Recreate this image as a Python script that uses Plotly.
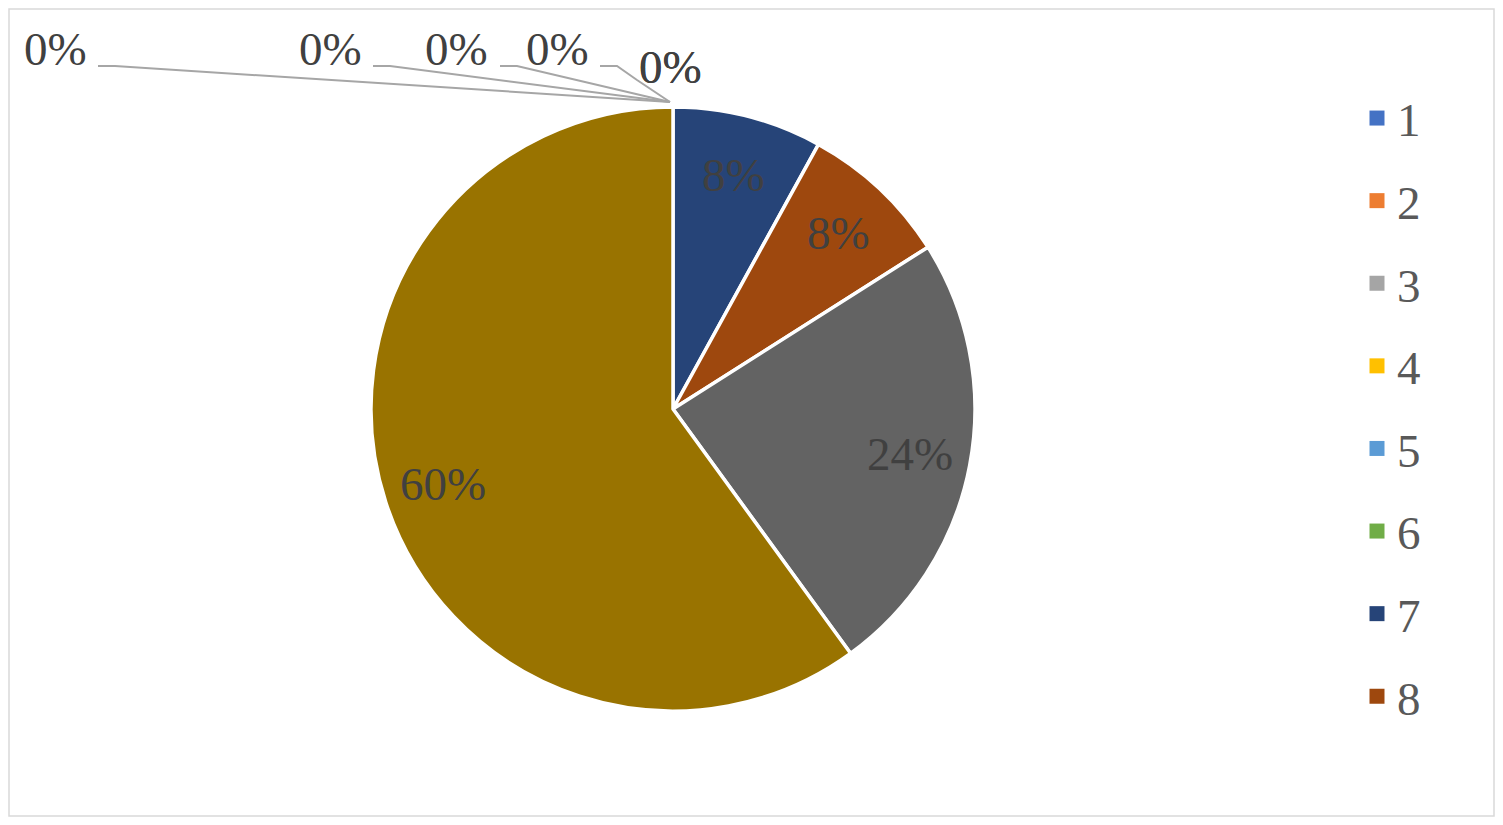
import math
import plotly.graph_objects as go

# 数据
categories = ['1', '2', '3', '4', '5', '6', '7', '8', '9', '10']
values = [0, 0, 0, 0, 0, 0, 2, 2, 6, 15]
colors = ['#4472C4', '#ED7D31', '#A5A5A5', '#FFC000', '#5B9BD5',
          '#70AD47', '#264478', '#9E480E', '#636363', '#997300']
legend_items = categories[:8]   # 原图图例只显示到 8

OFF = 8                             # 页面 body 的默认边距
W, H = 1487, 809
CX, CY, R = 673, 409, 302           # 饼图中心和半径 (窗口 px)
FONT = 'Times New Roman, Liberation Serif, serif'
TXT = '#404040'


def px(x, y):
    return (x - OFF) / W, 1 - (y - OFF) / H


fig = go.Figure()

x0, y0 = px(CX - R, CY + R)
x1, y1 = px(CX + R, CY - R)
fig.add_trace(go.Pie(
    labels=categories, values=values, sort=False,
    direction='clockwise', rotation=0,
    marker=dict(colors=colors, line=dict(color='white', width=3.5)),
    textinfo='none', showlegend=False, hoverinfo='label+percent',
    domain=dict(x=[x0, x1], y=[y0, y1])
))

# 图例 (虚拟散点)
for i, lab in enumerate(legend_items):
    fig.add_trace(go.Scatter(
        x=[None], y=[None], mode='markers', name=lab,
        legendgroup=lab,
        marker=dict(symbol='square', size=15, color=colors[i])
    ))


def label(x, y, text):
    ax, ay = px(x, y)
    return dict(x=ax, y=ay, xref='paper', yref='paper', text=text,
                showarrow=False, xanchor='center', yanchor='middle',
                font=dict(family=FONT, size=47, color=TXT))


# 百分比标签
total = sum(values)
cum = 0
zero_pos = [(55, 49), (330, 49), (457, 49), (557, 49), (670, 67), (670, 67)]
zi = 0
annotations = []
shapes = []
for v in values:
    pct = v / total
    if v == 0:
        lx, ly = zero_pos[zi]
        zi += 1
        annotations.append(label(lx, ly, f'{pct:.0%}'))
        if lx < 640:
            # 引导线
            sx = lx + 43
            pts = [(sx, 66), (sx + 17, 66), (CX - 3, CY - R - 5)]
            if lx > 540:
                pts = [(sx, 66), (sx + 17, 66), (sx + 37, 80), (CX - 3, CY - R - 5)]
            path = 'M ' + ' L '.join(f'{px(a, b)[0]},{px(a, b)[1]}' for a, b in pts)
            shapes.append(dict(type='path', xref='paper', yref='paper', path=path,
                               line=dict(color='#A6A6A6', width=2)))
        continue
    mid = (cum + v / 2) / total * 2 * math.pi
    cum += v
    tx = CX + 0.8 * R * math.sin(mid)
    ty = CY - 0.8 * R * math.cos(mid)
    annotations.append(label(tx, ty, f'{pct:.0%}'))

# 外框
shapes.append(dict(type='rect', xref='paper', yref='paper',
                   x0=px(9, 0)[0], x1=px(1494, 0)[0],
                   y0=px(0, 816)[1], y1=px(0, 9)[1],
                   line=dict(color='#D9D9D9', width=1.5)))

lx, ly = px(1357, 81)
fig.update_layout(
    width=W, height=H,
    margin=dict(l=0, r=0, t=0, b=0),
    paper_bgcolor='white', plot_bgcolor='white',
    xaxis=dict(visible=False), yaxis=dict(visible=False),
    annotations=annotations, shapes=shapes,
    showlegend=True,
    legend=dict(x=lx, y=ly, xanchor='left', yanchor='top',
                font=dict(family=FONT, size=47, color='#595959'),
                tracegroupgap=18.5, itemwidth=30,
                bgcolor='rgba(0,0,0,0)')
)

fig.write_html('out.html')
